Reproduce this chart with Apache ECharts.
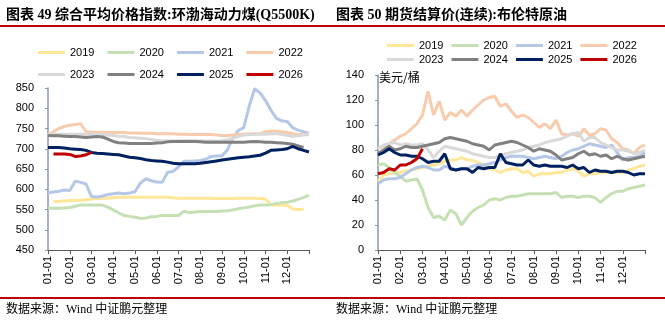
<!DOCTYPE html>
<html><head><meta charset="utf-8">
<script src="https://cdn.jsdelivr.net/npm/echarts@6/dist/echarts.min.js"></script>
<style>html,body{margin:0;padding:0;background:#fff}#c{width:665px;height:325px}</style>
</head><body><div id="c"></div>
<script>
// ---- data ----
const years = ['2019','2020','2021','2022','2023','2024','2025','2026'];
const monthLabels = ['01-01','02-01','03-01','04-01','05-01','06-01','07-01','08-01','09-01','10-01','11-01','12-01'];
const leftTitle = '图表 49 综合平均价格指数:环渤海动力煤(Q5500K)';
const rightTitle = '图表 50 期货结算价(连续):布伦特原油';
const sourceText = '数据来源：Wind 中证鹏元整理';
const brentUnit = '美元/桶';
// sampled 4 points per month (x = month index / 4)
const coal2019 = [null,570,570,571, 572,572,573,574, 576,577,578,578, 579,580,580,580, 580,580,580,580, 580,580,580,579, 578,578,578,578, 578,578,578,577, 577,577,577,578, 578,578,578,577, 576,562,561,561, 560,551,550,550, null];
const coal2020 = [553,553,553,554, 555,558,561,561, 561,561,561,556, 549,542,535,533, 531,528,529,532, 533,535,535,535, 535,546,542,544, 545,545,545,545, 546,547,549,552, 554,556,559,561, 561,562,565,567, 568,571,575,580, 585];
const coal2021 = [591,593,595,598, 597,620,617,613, 582,581,583,587, 589,591,589,591, 594,615,626,621, 618,617,642,644, 655,669,669,670, 671,674,681,682, 683,697,727,745, 752,805,848,838, 819,795,775,769, 767,752,746,742, 738];
const coal2022 = [735,742,750,755, 758,760,762,742, 741,741,741,740, 740,740,740,739, 739,738,738,738, 737,737,737,737, 736,736,735,735, 735,735,735,734, 733,733,734,735, 736,737,737,737, 742,743,743,742, 740,737,735,735, 736];
const coal2023 = [736,736,736,736, 736,736,736,736, 736,736,735,734, 733,731,730,728, 727,726,725,723, 721,720,719,719, 719,720,720,720, 719,719,719,719, 720,722,726,730, 734,735,736,736, 736,737,737,736, 733,730,732,734, 735];
const coal2024 = [733,732,732,731, 730,730,729,728, 729,730,729,724, 718,715,714,713, 713,713,713,713, 714,715,717,718, 718,718,718,718, 717,716,716,716, 716,716,716,716, 716,717,718,717, 716,716,715,714, 713,711,707,703, null];
const coal2025 = [703,703,703,702, 700,699,698,696, 691,689,688,687, 686,685,682,679, 678,676,673,671, 670,669,667,664, 663,663,663,663, 664,666,668,670, 672,674,676,678, 679,680,682,684, 689,696,697,698, 700,706,700,696, 692];
const coal2026 = [null,687,687,687, 686,681,682,685, 691];

const brent2019 = [55,60,61,62, 62,63,64,65, 66,67,68,69, 71,72,72,74, 72,72,70,68, 65,64,62,64, 65,65,62,63, 59,61,61,61, 62,62,64,65, 63,59,61,61, 62,62,62,62, 62,64,65,67, 68];
const brent2020 = [68,69,66,62, 59,55,56,57, 48,34,26,27, 24,32,29,20, 26,31,34,36, 40,41,40,42, 43,43,44,45, 45,45,45,45, 46,42,43,43, 42,43,43,42, 38,42,45,47, 47,49,50,51, 52];
const brent2021 = [53,56,57,57, 58,61,64,66, 67,66,64,64, 67,66,64,65, 65,67,68,68, 69,70,72,74, 75,75,75,74, 73,74,75,74, 73,75,78,80, 81,83,85,84, 83,82,84,78, 72,74,74,75, 78];
const brent2022 = [81,83,85,88, 91,93,97,101, 108,127,108,119, 104,110,107,112, 107,112,116,120, 122,123,115,117, 111,106,108,106, 102,98,101,97, 104,93,92,93, 91,97,92,93, 97,96,89,86, 81,80,77,82, 84];
const brent2023 = [81,84,85,86, 84,85,84,84, 85,80,74,79, 83,82,81,80, 79,77,76,75, 74,74,76,77, 78,79,80,82, 83,84,86,87, 88,89,91,93, 94,87,90,90, 86,84,82,80, 80,79,77,78, 80];
const brent2024 = [77,80,83,80, 81,83,82,82, 83,84,85,86, 89,90,89,88, 87,85,84,83, 80,84,85,86, 87,86,84,82, 79,81,80,79, 76,72,73,74, 77,79,76,77, 75,76,73,75, 73,72,73,74, 75];
const brent2025 = [76,78,81,78, 76,76,75,75, 73,70,71,71, 77,65,64,65, 65,62,66,65, 66,66,77,70, 69,68,68,72, 68,67,68,67, 67,67,66,68, 65,66,62,64, 63,63,62,63, 63,62,60,61, 61];
const brent2026 = [61,62,65,64, 68,68,70,73, 81];

const coalSeries = [coal2019,coal2020,coal2021,coal2022,coal2023,coal2024,coal2025,coal2026];
const brentSeries = [brent2019,brent2020,brent2021,brent2022,brent2023,brent2024,brent2025,brent2026];
const colors = ['#FFE699','#C5E0B4','#B4C7E7','#F8CBAD','#D9D9D9','#808080','#002060','#C00000'];
const PER_MONTH = 4;

// ---- chart ----
const chart = echarts.init(document.getElementById('c'), null, {renderer:'canvas'});
const numFont = '"Liberation Sans", Arial, sans-serif';
const toPairs = arr => arr.map((v,i) => [i/PER_MONTH, v]);

function xAxis(gi){
  return {type:'value', gridIndex:gi, min:0, max:12, interval:1,
    axisLine:{show:true, lineStyle:{color:'#595959', width:1}},
    axisTick:{show:true, length:4, lineStyle:{color:'#595959'}},
    axisLabel:{rotate:90, margin:6, fontSize:11, color:'#000', fontFamily:numFont,
      showMaxLabel:true, formatter: v => (v < 12 ? monthLabels[v] : '')},
    splitLine:{show:false}};
}
function yAxis(gi, min, max, interval){
  return {type:'value', gridIndex:gi, min, max, interval,
    axisLine:{show:true, lineStyle:{color:'#8497B0', width:1.5}},
    axisTick:{show:true, length:3, lineStyle:{color:'#8497B0'}},
    axisLabel:{margin:14, fontSize:11, color:'#000', fontFamily:numFont},
    splitLine:{show:false}};
}
function legends(left, top1, top2, gap){
  const base = {orient:'horizontal', left, padding:0, itemGap:gap, itemWidth:27, itemHeight:3,
    icon:'rect', textStyle:{fontSize:11, color:'#000', fontFamily:numFont}, selectedMode:false};
  return [Object.assign({}, base, {top:top1, data:years.slice(0,4)}),
          Object.assign({}, base, {top:top2, data:years.slice(4)})];
}

const series = [];
years.forEach((y,k) => {
  series.push({name:y, type:'line', xAxisIndex:0, yAxisIndex:0, data:toPairs(coalSeries[k]),
    showSymbol:false, symbol:'none', color:colors[k], lineStyle:{width:3, color:colors[k]}, z:2+k});
});
years.forEach((y,k) => {
  series.push({name:y, type:'line', xAxisIndex:1, yAxisIndex:1, data:toPairs(brentSeries[k]),
    showSymbol:false, symbol:'none', color:colors[k], lineStyle:{width:3, color:colors[k]}, z:2+k});
});

const titleFont = 'bold 14px "Liberation Serif", "Noto Sans CJK SC", serif';
const srcFont = '12px "Liberation Serif", "Noto Sans CJK SC", serif';

chart.setOption({
  animation:false,
  backgroundColor:'#fff',
  grid:[{left:48, top:88, width:261, height:162},
        {left:378, top:75, width:267, height:175}],
  xAxis:[xAxis(0), xAxis(1)],
  yAxis:[yAxis(0,450,850,50), yAxis(1,0,140,20)],
  legend:[...legends(38,47,69,13), ...legends(387,40,54,8)],
  series,
  graphic:[
    {type:'text', style:{text:leftTitle, x:6, y:15, font:titleFont, fill:'#000', verticalAlign:'middle'}},
    {type:'text', style:{text:rightTitle, x:336, y:15, font:titleFont, fill:'#000', verticalAlign:'middle'}},
    {type:'rect', shape:{x:0, y:25, width:665, height:2}, style:{fill:'#C00000'}},
    {type:'rect', shape:{x:0, y:297, width:665, height:2}, style:{fill:'#C00000'}},
    {type:'text', style:{text:sourceText, x:6, y:310, font:srcFont, fill:'#000', verticalAlign:'middle'}},
    {type:'text', style:{text:sourceText, x:336, y:310, font:srcFont, fill:'#000', verticalAlign:'middle'}},
    {type:'text', style:{text:brentUnit, x:379, y:77, font:'12px "Noto Sans CJK SC", sans-serif', fill:'#000', verticalAlign:'middle'}}
  ]
});
</script></body></html>
